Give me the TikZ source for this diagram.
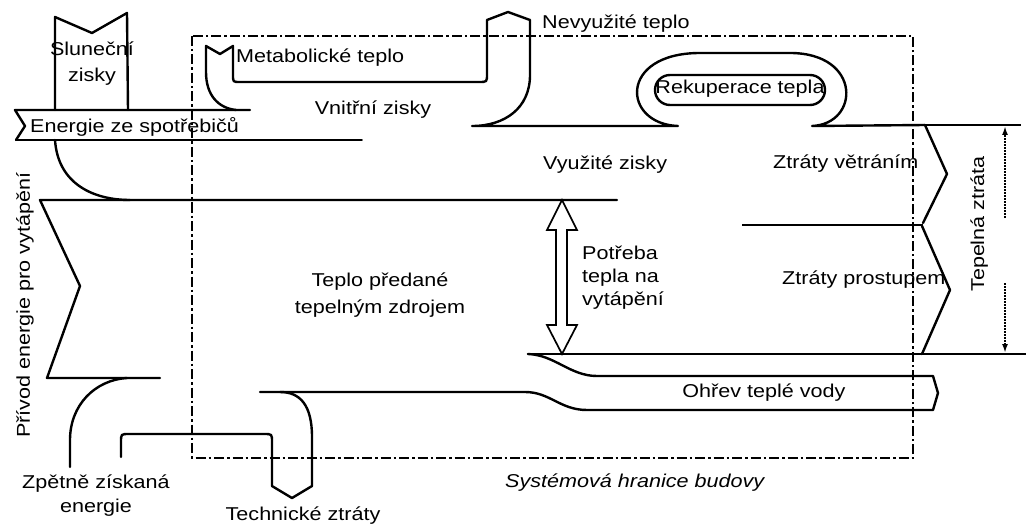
\documentclass[tikz,border=0pt]{standalone}
\usepackage{fontspec}
\setmainfont{Liberation Sans}[FakeStretch=1.16]
\usetikzlibrary{arrows.meta}
\tikzset{
  band/.style={line width=2.4pt, line join=round, line cap=round},
  midline/.style={line width=1.6pt, line cap=round},
  thinline/.style={line width=1.2pt},
  bound/.style={line width=2.1pt, dash pattern=on 10pt off 3pt on 2.5pt off 3pt},
  lbl/.style={font=\fontsize{18.6}{22}\selectfont, inner sep=0pt},
  dimarrow/.style={line width=2.6pt, dash pattern=on 2pt off 1pt, -{Latex[length=9pt,width=6pt]}},
  rekbox/.style={draw, line width=2.4pt, rounded corners=15pt, minimum width=170pt, minimum height=30pt, inner sep=0pt}
}
\begin{document}
\begin{tikzpicture}[x=1pt,y=-1pt]
\useasboundingbox (0,0) rectangle (1026,524);
% system boundary
\draw[bound] (192,36) rectangle (913,458);
% solar gains
\draw[band] (55,110) -- (55,17) -- (92,33) -- (127,13) -- (128,110);
% energy from appliances
\draw[band] (250,110) -- (15,110) -- (25,126) -- (16,140);
\draw[midline] (16,140) -- (362,140);
\draw[band] (55,140) .. controls (58,185) and (95,200) .. (130,200);
% metabolic heat, unused heat, heat recovery loop
\draw[band] (236,110) .. controls (218,108) and (206,95) .. (206,72) -- (206,46) -- (220,54) -- (233,46) -- (233,75) .. controls (233,82) .. (240,82) -- (479,82) .. controls (487,82) .. (487,74) -- (487,20) -- (508,12) -- (530,20) -- (530,75) .. controls (530,108) and (505,126) .. (472,126) -- (678,126) .. controls (622,124) and (618,53) .. (700,53) -- (790,53) .. controls (862,53) and (860,124) .. (812,126) -- (925,125);
\node[rekbox] (rek) at (740,90) {};
\node[lbl, anchor=base] (rekt) at (740,94) {Rekuperace tepla};
% losses on the right
\draw[thinline] (913,125) -- (1021,125);
\draw[band] (925,125) -- (947,174) -- (923,223);
\draw[thinline] (742,225) -- (923,225);
\draw[band] (922,226) -- (950,290) -- (922,354);
\draw[band] (528,354) -- (922,354);
\draw[thinline] (922,354) -- (1026,354);
\coordinate (dt1) at (1005,218);
\coordinate (dt2) at (1005,126);
\coordinate (db1) at (1005,283);
\coordinate (db2) at (1005,353);
\draw[dimarrow] (dt1) -- (dt2);
\draw[dimarrow] (db1) -- (db2);
% main heating band
\draw[band] (617,200) -- (40,200) -- (80,286) -- (47,378) -- (160,378);
% recovered energy
\draw[band] (70,467) -- (70,440) .. controls (70,405) and (95,380) .. (127,378);
% technical losses
\draw[band] (121,457) -- (121,442) .. controls (121,434) .. (129,434) -- (264,434) .. controls (272,434) .. (272,442) -- (272,486) -- (292,498) -- (312,486) -- (312,437) .. controls (312,405) and (300,392) .. (280,392);
% hot water
\draw[band] (260,392) -- (525,392) .. controls (550,392) and (560,410) .. (587,410) -- (933,410) -- (938,393) -- (933,376) -- (597,376) .. controls (570,376) and (555,355) .. (528,354);
% heating demand double arrow
\draw[line width=1.7pt, line join=miter] (562,200) -- (577,230) -- (567,230) -- (567,325) -- (577,325) -- (562,354) -- (547,325) -- (556,325) -- (556,230) -- (547,230) -- cycle;
% labels
\node[lbl, anchor=base] (sl1) at (92,56) {Sluneční};
\node[lbl, anchor=base] (sl2) at (92,82) {zisky};
\node[lbl, anchor=base west] (ens) at (30,133) {Energie ze spotřebičů};
\node[lbl, anchor=base west] (met) at (236,63) {Metabolické teplo};
\node[lbl, anchor=base] (vni) at (373,115) {Vnitřní zisky};
\node[lbl, anchor=base west] (nev) at (542,29) {Nevyužité teplo};
\node[lbl, anchor=base west] (vyu) at (543,170) {Využité zisky};
\node[lbl, anchor=base west] (zve) at (773,168) {Ztráty větráním};
\node[lbl, anchor=base west] (zpr) at (782,284) {Ztráty prostupem};
\node[lbl, anchor=base] (tp1) at (380,286) {Teplo předané};
\node[lbl, anchor=base] (tp2) at (380,313) {tepelným zdrojem};
\node[lbl, anchor=base west] (pt1) at (582,259) {Potřeba};
\node[lbl, anchor=base west] (pt2) at (582,282) {tepla na};
\node[lbl, anchor=base west] (pt3) at (582,305) {vytápění};
\node[lbl, anchor=base] (ohr) at (764,397) {Ohřev teplé vody};
\node[lbl, anchor=base west, font=\fontsize{18.6}{22}\selectfont\itshape] (sys) at (505,487) {Systémová hranice budovy};
\node[lbl, anchor=base] (zp1) at (96,488) {Zpětně získaná};
\node[lbl, anchor=base] (zp2) at (96,512) {energie};
\node[lbl, anchor=base] (tech) at (303,520) {Technické ztráty};
\node[lbl, anchor=base west, rotate=90] (tz) at (984,292) {Tepelná ztráta};
\node[lbl, anchor=base west, rotate=90] (pri) at (30,438) {Přívod energie pro vytápění};
\end{tikzpicture}
\end{document}
